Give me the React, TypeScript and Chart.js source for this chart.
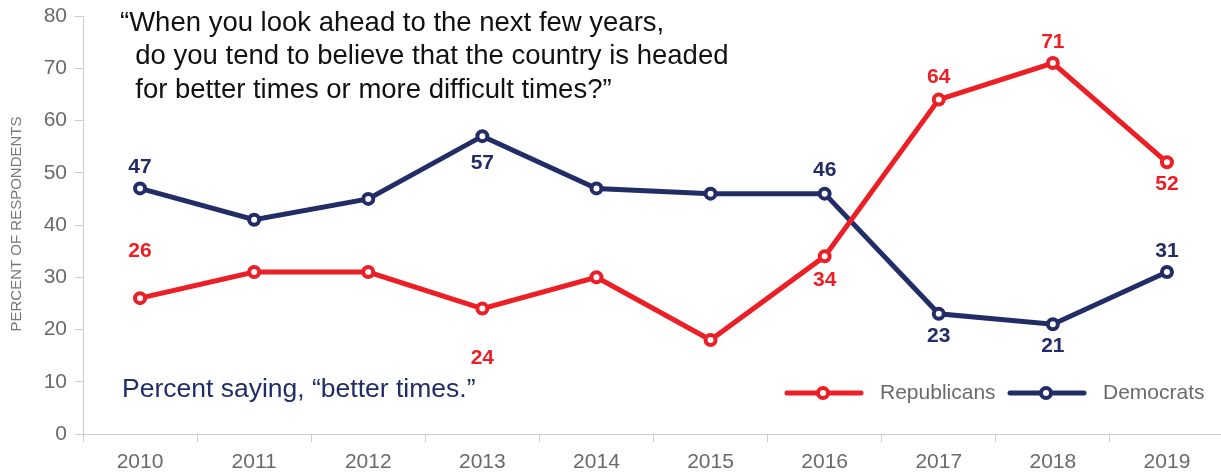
import React, { useEffect, useRef } from "react";
import { Chart, registerables } from "chart.js";

Chart.register(...registerables);

const years = ["2010", "2011", "2012", "2013", "2014", "2015", "2016", "2017", "2018", "2019"];
const republicans = [26, 31, 31, 24, 30, 18, 34, 64, 71, 52];
const democrats = [47, 41, 45, 57, 47, 46, 46, 23, 21, 31];
// label offset per point in px (positive = above, negative = below, 0 = none)
const repLabelOffset = [47, 0, 0, -50, 0, 0, -24, 22, 21, -22];
const demLabelOffset = [21, 0, 0, -27, 0, 0, 23, -22, -22, 21];
const yTicks = [0, 10, 20, 30, 40, 50, 60, 70, 80];
const quoteLines = [
  "\u201CWhen you look ahead to the next few years,",
  "  do you tend to believe that the country is headed",
  "  for better times or more difficult times?\u201D",
];
const subtitle = "Percent saying, \u201Cbetter times.\u201D";
const yTitle = "PERCENT OF RESPONDENTS";

const RED = "#EC1F26";
const NAVY = "#222C66";
const FONT = "'Liberation Sans', Arial, sans-serif";

const overlayPlugin = {
  id: "overlay",
  afterDatasetsDraw(chart: any) {
    const ctx = chart.ctx;
    ctx.save();
    const sets = [
      { meta: chart.getDatasetMeta(0), data: republicans, off: repLabelOffset, color: RED },
      { meta: chart.getDatasetMeta(1), data: democrats, off: demLabelOffset, color: NAVY },
    ];
    ctx.font = `bold 21px ${FONT}`;
    ctx.textAlign = "center";
    ctx.textBaseline = "middle";
    sets.forEach((s) => {
      s.meta.data.forEach((pt: any, i: number) => {
        const o = s.off[i];
        if (!o) return;
        ctx.fillStyle = s.color;
        ctx.fillText(String(s.data[i]), pt.x, pt.y - o);
      });
    });
    // quote
    ctx.fillStyle = "#111";
    ctx.font = `27.5px ${FONT}`;
    ctx.textAlign = "left";
    quoteLines.forEach((l, i) => {
      ctx.fillText(l, 120, 23 + i * 33.5);
    });
    // subtitle
    ctx.fillStyle = NAVY;
    ctx.font = `26.5px ${FONT}`;
    ctx.fillText(subtitle, 122, 390);
    // y title
    ctx.save();
    ctx.translate(17, 224);
    ctx.rotate(-Math.PI / 2);
    ctx.textAlign = "center";
    ctx.fillStyle = "#777";
    ctx.font = `15px ${FONT}`;
    ctx.fillText(yTitle, 0, 0);
    ctx.restore();
    // legend
    const legend = [
      { x: 787, label: "Republicans", color: RED },
      { x: 1010, label: "Democrats", color: NAVY },
    ];
    legend.forEach((l) => {
      ctx.strokeStyle = l.color;
      ctx.lineWidth = 5;
      ctx.lineCap = "round";
      ctx.beginPath();
      ctx.moveTo(l.x, 393);
      ctx.lineTo(l.x + 74, 393);
      ctx.stroke();
      ctx.beginPath();
      ctx.arc(l.x + 36, 393, 5, 0, Math.PI * 2);
      ctx.fillStyle = "#fff";
      ctx.fill();
      ctx.lineWidth = 4;
      ctx.stroke();
      ctx.fillStyle = "#6a6a6a";
      ctx.font = `21px ${FONT}`;
      ctx.textAlign = "left";
      ctx.fillText(l.label, l.x + 93, 393);
    });
    ctx.restore();
  },
};

export default function App() {
  const ref = useRef<HTMLCanvasElement | null>(null);
  useEffect(() => {
    document.body.style.margin = "0";
    const pointStyle = {
      borderWidth: 5,
      pointRadius: 5,
      pointBorderWidth: 4,
      pointBackgroundColor: "#fff",
      backgroundColor: "#fff",
      tension: 0,
    };
    const chart = new Chart(ref.current as HTMLCanvasElement, {
      type: "line",
      data: {
        labels: years,
        datasets: [
          { label: "Republicans", data: republicans, borderColor: RED, pointBorderColor: RED, ...pointStyle },
          { label: "Democrats", data: democrats, borderColor: NAVY, pointBorderColor: NAVY, ...pointStyle },
        ],
      },
      options: {
        responsive: false,
        animation: false,
        layout: { padding: { top: 16, right: 0, left: 0, bottom: 0 } },
        plugins: { legend: { display: false }, tooltip: { enabled: false } },
        scales: {
          x: {
            offset: true,
            grid: { offset: true, drawOnChartArea: false, tickLength: 8, color: "#ccc" },
            border: { color: "#ccc", width: 1 },
            ticks: { color: "#6a6a6a", font: { size: 21, family: FONT }, padding: 8 },
            afterFit: (s: any) => {
              s.height = 39;
              s.paddingLeft = 0;
              s.paddingRight = 0;
            },
          },
          y: {
            min: 0,
            max: 80,
            afterBuildTicks: (s: any) => {
              s.ticks = yTicks.map((v) => ({ value: v }));
            },
            grid: { drawOnChartArea: false, tickLength: 8, color: "#ccc" },
            border: { color: "#ccc", width: 1 },
            ticks: { color: "#6a6a6a", font: { size: 21, family: FONT }, padding: 8 },
            afterFit: (s: any) => {
              s.width = 83;
              s.paddingTop = 0;
              s.paddingBottom = 0;
            },
          },
        },
      },
      plugins: [overlayPlugin],
    });
    return () => chart.destroy();
  }, []);
  return (
    <div style={{ width: 1221, height: 473, overflow: "hidden" }}>
      <canvas ref={ref} width={1233} height={473} />
    </div>
  );
}
